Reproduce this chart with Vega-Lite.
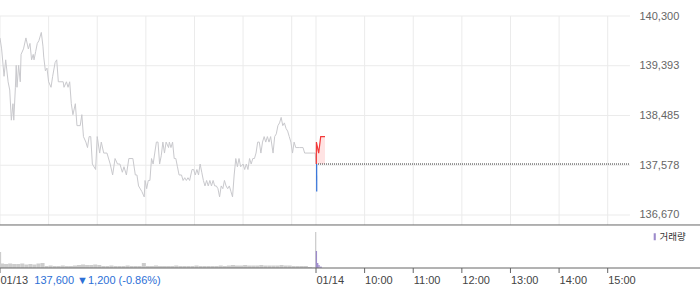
{
  "$schema": "https://vega.github.io/schema/vega-lite/v6.json",
  "width": 700,
  "height": 268,
  "padding": {"left": 0, "top": 0, "right": 0, "bottom": 21},
  "autosize": {"type": "none"},
  "background": "white",
  "config": {"view": {"stroke": null}, "font": "Liberation Sans"},
  "datasets": {
    "prev": [
      {"m":0,"p":139900},{"m":2,"p":139700},{"m":5,"p":139200},{"m":7,"p":139500},{"m":10,"p":139100},{"m":12,"p":138950},{"m":14,"p":138400},{"m":16,"p":138700},{"m":17,"p":138400},{"m":19,"p":139000},
      {"m":20,"p":139400},{"m":21,"p":139000},{"m":23,"p":139400},{"m":25,"p":139100},{"m":26,"p":139600},{"m":29,"p":139700},{"m":32,"p":139900},{"m":35,"p":139700},{"m":37,"p":139800},{"m":39,"p":139500},
      {"m":41,"p":139600},{"m":42,"p":139500},{"m":44,"p":139650},{"m":46,"p":139800},{"m":48,"p":139850},{"m":51,"p":140000},{"m":53,"p":139750},{"m":54,"p":139550},{"m":56,"p":139300},{"m":58,"p":139350},
      {"m":60,"p":139100},{"m":63,"p":139000},{"m":65,"p":139200},{"m":68,"p":139450},{"m":70,"p":139500},{"m":72,"p":139100},{"m":78,"p":139100},{"m":79,"p":139000},{"m":82,"p":139100},{"m":84,"p":139000},
      {"m":86,"p":139100},{"m":88,"p":138700},{"m":90,"p":138500},{"m":93,"p":138700},{"m":95,"p":138300},{"m":99,"p":138300},{"m":101,"p":138500},{"m":103,"p":138100},{"m":106,"p":138000},{"m":108,"p":137900},
      {"m":110,"p":138100},{"m":112,"p":138100},{"m":114,"p":137600},{"m":118,"p":137500},{"m":120,"p":138100},{"m":123,"p":137800},{"m":125,"p":138000},{"m":128,"p":137800},{"m":132,"p":137800},{"m":136,"p":137600},
      {"m":139,"p":137400},{"m":142,"p":137700},{"m":145,"p":137600},{"m":148,"p":137600},{"m":151,"p":137450},{"m":153,"p":137550},{"m":156,"p":137400},{"m":159,"p":137700},{"m":164,"p":137700},{"m":167,"p":137400},
      {"m":169,"p":137400},{"m":171,"p":137200},{"m":175,"p":137100},{"m":178,"p":137000},{"m":179,"p":137300},{"m":181,"p":137150},{"m":183,"p":137300},{"m":185,"p":137300},{"m":187,"p":137700},{"m":189,"p":137600},
      {"m":191,"p":137800},{"m":193,"p":138000},{"m":195,"p":138000},{"m":197,"p":137600},{"m":199,"p":137750},{"m":201,"p":138000},{"m":203,"p":137800},{"m":205,"p":138000},{"m":208,"p":137900},{"m":209,"p":138000},
      {"m":211,"p":137900},{"m":213,"p":138000},{"m":215,"p":137700},{"m":217,"p":137700},{"m":219,"p":137550},{"m":221,"p":137400},{"m":224,"p":137400},{"m":226,"p":137300},{"m":228,"p":137350},{"m":230,"p":137300},
      {"m":232,"p":137350},{"m":234,"p":137300},{"m":237,"p":137500},{"m":239,"p":137500},{"m":241,"p":137400},{"m":243,"p":137500},{"m":245,"p":137400},{"m":247,"p":137600},{"m":249,"p":137450},{"m":251,"p":137300},
      {"m":253,"p":137200},{"m":255,"p":137300},{"m":257,"p":137200},{"m":259,"p":137300},{"m":261,"p":137200},{"m":263,"p":137300},{"m":265,"p":137200},{"m":267,"p":137200},{"m":269,"p":137150},{"m":271,"p":137000},
      {"m":273,"p":137200},{"m":275,"p":137150},{"m":277,"p":137300},{"m":279,"p":137200},{"m":281,"p":137150},{"m":283,"p":137200},{"m":285,"p":137100},{"m":287,"p":137000},{"m":289,"p":137400},{"m":291,"p":137700},
      {"m":293,"p":137550},{"m":295,"p":137700},{"m":297,"p":137550},{"m":300,"p":137600},{"m":302,"p":137500},{"m":304,"p":137600},{"m":306,"p":137500},{"m":308,"p":137700},{"m":310,"p":137600},{"m":312,"p":137700},
      {"m":314,"p":137700},{"m":316,"p":137800},{"m":318,"p":138000},{"m":320,"p":138000},{"m":322,"p":137800},{"m":324,"p":138000},{"m":326,"p":138100},{"m":328,"p":138000},{"m":330,"p":138100},{"m":332,"p":138000},
      {"m":334,"p":138100},{"m":337,"p":137800},{"m":339,"p":138100},{"m":341,"p":138150},{"m":343,"p":138300},{"m":345,"p":138350},{"m":347,"p":138450},{"m":349,"p":138300},{"m":351,"p":138350},{"m":353,"p":138250},
      {"m":355,"p":138200},{"m":357,"p":138100},{"m":359,"p":138000},{"m":361,"p":137800},{"m":363,"p":138000},{"m":365,"p":137900},{"m":370,"p":137900},{"m":374,"p":137900},{"m":376,"p":137800},{"m":387,"p":137800},
      {"m":389,"p":137800},{"m":390,"p":137600}
    ],
    "up": [
      {"m":390.4,"p":137600},{"m":390.5,"p":138000},{"m":393.3,"p":137800},{"m":395.8,"p":138100},{"m":397.4,"p":138100},{"m":401.1,"p":138100}
    ],
    "down": [
      {"m":390.8,"p":137600},{"m":390.9,"p":137100}
    ],
    "hgrid": [{"g":136670},{"g":137578},{"g":138485},{"g":139393},{"g":140300}],
    "vgrid": [{"m":0},{"m":60},{"m":120},{"m":180},{"m":240},{"m":300},{"m":360},{"m":390},{"m":450},{"m":510},{"m":570},{"m":630},{"m":690},{"m":750}],
    "vol5": [
      {"m":2.5,"v":9,"day":"01/13"},{"m":7.5,"v":8,"day":"01/13"},{"m":12.5,"v":9,"day":"01/13"},{"m":17.5,"v":8,"day":"01/13"},{"m":22.5,"v":8,"day":"01/13"},{"m":27.5,"v":9,"day":"01/13"},{"m":32.5,"v":7,"day":"01/13"},{"m":37.5,"v":8,"day":"01/13"},{"m":42.5,"v":7,"day":"01/13"},{"m":47.5,"v":9,"day":"01/13"},
      {"m":52.5,"v":10,"day":"01/13"},{"m":57.5,"v":4,"day":"01/13"},{"m":62.5,"v":5,"day":"01/13"},{"m":67.5,"v":4,"day":"01/13"},{"m":72.5,"v":4,"day":"01/13"},{"m":77.5,"v":5,"day":"01/13"},{"m":82.5,"v":4,"day":"01/13"},{"m":87.5,"v":4,"day":"01/13"},{"m":92.5,"v":5,"day":"01/13"},{"m":97.5,"v":6,"day":"01/13"},
      {"m":102.5,"v":7,"day":"01/13"},{"m":107.5,"v":6,"day":"01/13"},{"m":112.5,"v":6,"day":"01/13"},{"m":117.5,"v":7,"day":"01/13"},{"m":122.5,"v":6,"day":"01/13"},{"m":127.5,"v":4,"day":"01/13"},{"m":132.5,"v":4,"day":"01/13"},{"m":137.5,"v":5,"day":"01/13"},{"m":142.5,"v":4,"day":"01/13"},{"m":147.5,"v":4,"day":"01/13"},
      {"m":152.5,"v":4,"day":"01/13"},{"m":157.5,"v":5,"day":"01/13"},{"m":162.5,"v":4,"day":"01/13"},{"m":167.5,"v":4,"day":"01/13"},{"m":172.5,"v":4,"day":"01/13"},{"m":177.5,"v":10,"day":"01/13"},{"m":182.5,"v":4,"day":"01/13"},{"m":187.5,"v":4,"day":"01/13"},{"m":192.5,"v":5,"day":"01/13"},{"m":197.5,"v":4,"day":"01/13"},
      {"m":202.5,"v":4,"day":"01/13"},{"m":207.5,"v":4,"day":"01/13"},{"m":212.5,"v":4,"day":"01/13"},{"m":217.5,"v":5,"day":"01/13"},{"m":222.5,"v":4,"day":"01/13"},{"m":227.5,"v":4,"day":"01/13"},{"m":232.5,"v":4,"day":"01/13"},{"m":237.5,"v":4,"day":"01/13"},{"m":242.5,"v":5,"day":"01/13"},{"m":247.5,"v":4,"day":"01/13"},
      {"m":252.5,"v":4,"day":"01/13"},{"m":257.5,"v":4,"day":"01/13"},{"m":262.5,"v":4,"day":"01/13"},{"m":267.5,"v":4,"day":"01/13"},{"m":272.5,"v":5,"day":"01/13"},{"m":277.5,"v":4,"day":"01/13"},{"m":282.5,"v":5,"day":"01/13"},{"m":287.5,"v":6,"day":"01/13"},{"m":292.5,"v":5,"day":"01/13"},{"m":297.5,"v":5,"day":"01/13"},
      {"m":302.5,"v":6,"day":"01/13"},{"m":307.5,"v":5,"day":"01/13"},{"m":312.5,"v":5,"day":"01/13"},{"m":317.5,"v":5,"day":"01/13"},{"m":322.5,"v":6,"day":"01/13"},{"m":327.5,"v":5,"day":"01/13"},{"m":332.5,"v":5,"day":"01/13"},{"m":337.5,"v":5,"day":"01/13"},{"m":342.5,"v":5,"day":"01/13"},{"m":347.5,"v":6,"day":"01/13"},
      {"m":352.5,"v":5,"day":"01/13"},{"m":357.5,"v":5,"day":"01/13"},{"m":362.5,"v":4,"day":"01/13"},{"m":367.5,"v":4,"day":"01/13"},{"m":372.5,"v":4,"day":"01/13"},{"m":377.5,"v":4,"day":"01/13"},{"m":382.5,"v":2,"day":"01/13"},{"m":387.5,"v":1,"day":"01/13"}
    ],
    "volSpike": [
      {"m":0.6,"v":32,"day":"01/13"},{"m":389.6,"v":72,"day":"01/13"},{"m":390.5,"v":34,"day":"01/14"},{"m":392.1,"v":10,"day":"01/14"},{"m":393.7,"v":6,"day":"01/14"},{"m":396.1,"v":3,"day":"01/14"}
    ],
    "ticksX": [{"m":0,"lab":"01/13"},{"m":390,"lab":"01/14"},{"m":450,"lab":"10:00"},{"m":510,"lab":"11:00"},{"m":570,"lab":"12:00"},{"m":630,"lab":"13:00"},{"m":690,"lab":"14:00"},{"m":750,"lab":"15:00"}],
    "info": [{"m":42.3,"txt":"137,600 ▼1,200 (-0.86%)"}]
  },
  "resolve": {"scale": {"y": "independent"}},
  "layer": [
    {
      "data": {"name": "hgrid"},
      "mark": {"type": "rule", "color": "#ebebeb", "strokeWidth": 1},
      "encoding": {
        "y": {"field": "g", "type": "quantitative",
          "scale": {"domain": [135703.2, 140591.9], "nice": false, "zero": false},
          "axis": {"orient": "right", "offset": -61, "values": [136670, 137578, 138485, 139393, 140300], "format": ",.0f",
            "domain": false, "ticks": false, "tickSize": 0, "grid": false, "labelPadding": 0,
            "labelFont": "Liberation Sans", "labelFontSize": 11, "labelColor": "#666666",
            "labelFlush": false, "labelOverlap": false, "title": null}},
        "x": {"datum": 0, "type": "quantitative", "scale": {"domain": [0, 863.92], "nice": false, "zero": false, "padding": 0}, "axis": null},
        "x2": {"datum": 777.5}
      }
    },
    {
      "data": {"name": "vgrid"},
      "mark": {"type": "rule", "color": "#ebebeb", "strokeWidth": 1},
      "encoding": {
        "x": {"field": "m", "type": "quantitative", "scale": {"domain": [0, 863.92], "nice": false, "zero": false, "padding": 0}, "axis": null},
        "y": {"datum": 140300, "type": "quantitative", "scale": {"domain": [135703.2, 140591.9], "nice": false, "zero": false}, "axis": null},
        "y2": {"datum": 136488}
      }
    },
    {
      "data": {"name": "up"},
      "mark": {"type": "area", "color": "#ffe3e3", "opacity": 1},
      "encoding": {
        "x": {"field": "m", "type": "quantitative", "scale": {"domain": [0, 863.92], "nice": false, "zero": false, "padding": 0}, "axis": null},
        "y": {"field": "p", "type": "quantitative", "scale": {"domain": [135703.2, 140591.9], "nice": false, "zero": false}, "axis": null},
        "y2": {"datum": 137600}
      }
    },
    {
      "data": {"values": [{"c": 137600}]},
      "mark": {"type": "rule", "color": "#333333", "strokeWidth": 1, "strokeDash": [1, 1]},
      "encoding": {
        "x": {"datum": 390, "type": "quantitative", "scale": {"domain": [0, 863.92], "nice": false, "zero": false, "padding": 0}, "axis": null},
        "x2": {"datum": 777.5},
        "y": {"field": "c", "type": "quantitative", "scale": {"domain": [135703.2, 140591.9], "nice": false, "zero": false}, "axis": null}
      }
    },
    {
      "data": {"name": "prev"},
      "mark": {"type": "line", "color": "#c9c9cd", "strokeWidth": 1},
      "encoding": {
        "x": {"field": "m", "type": "quantitative", "scale": {"domain": [0, 863.92], "nice": false, "zero": false, "padding": 0}, "axis": null},
        "y": {"field": "p", "type": "quantitative", "scale": {"domain": [135703.2, 140591.9], "nice": false, "zero": false}, "axis": null}
      }
    },
    {
      "data": {"name": "up"},
      "mark": {"type": "line", "color": "#f23a3a", "strokeWidth": 1.2},
      "encoding": {
        "x": {"field": "m", "type": "quantitative", "scale": {"domain": [0, 863.92], "nice": false, "zero": false, "padding": 0}, "axis": null},
        "y": {"field": "p", "type": "quantitative", "scale": {"domain": [135703.2, 140591.9], "nice": false, "zero": false}, "axis": null}
      }
    },
    {
      "data": {"name": "down"},
      "mark": {"type": "line", "color": "#2f6fd8", "strokeWidth": 1.2},
      "encoding": {
        "x": {"field": "m", "type": "quantitative", "scale": {"domain": [0, 863.92], "nice": false, "zero": false, "padding": 0}, "axis": null},
        "y": {"field": "p", "type": "quantitative", "scale": {"domain": [135703.2, 140591.9], "nice": false, "zero": false}, "axis": null}
      }
    },
    {
      "data": {"values": [{"s": 136488}]},
      "mark": {"type": "rule", "color": "#666666", "strokeWidth": 1},
      "encoding": {
        "y": {"field": "s", "type": "quantitative", "scale": {"domain": [135703.2, 140591.9], "nice": false, "zero": false}, "axis": null}
      }
    },
    {
      "data": {"name": "vol5"},
      "mark": {"type": "bar", "width": 4.05},
      "encoding": {
        "x": {"field": "m", "type": "quantitative", "scale": {"domain": [0, 863.92], "nice": false, "zero": false, "padding": 0}, "axis": null},
        "y": {"field": "v", "type": "quantitative", "scale": {"domain": [0, 536], "nice": false}, "axis": null},
        "color": {"field": "day", "type": "nominal",
          "scale": {"domain": ["01/13", "01/14"], "range": ["#cdcdcd", "#9d8bcb"]},
          "legend": {"values": ["01/14"], "labelExpr": "'거래량'", "title": null, "orient": "none", "legendX": 650, "legendY": 232,
            "padding": 0, "symbolType": "M-0.3,-1L0.3,-1L0.3,1L-0.3,1Z", "symbolSize": 49, "symbolStrokeWidth": 0,
            "labelFont": "Noto Sans CJK KR", "labelFontSize": 9.5, "labelColor": "#333333", "labelOffset": 0}}
      }
    },
    {
      "data": {"name": "volSpike"},
      "mark": {"type": "bar", "width": 1.3},
      "encoding": {
        "x": {"field": "m", "type": "quantitative", "scale": {"domain": [0, 863.92], "nice": false, "zero": false, "padding": 0}, "axis": null},
        "y": {"field": "v", "type": "quantitative", "scale": {"domain": [0, 536], "nice": false}, "axis": null},
        "color": {"field": "day", "type": "nominal", "scale": {"domain": ["01/13", "01/14"], "range": ["#cdcdcd", "#9d8bcb"]}, "legend": null}
      }
    },
    {
      "data": {"values": [{"z": 0}]},
      "mark": {"type": "rule", "color": "#666666", "strokeWidth": 1},
      "encoding": {
        "y": {"field": "z", "type": "quantitative", "scale": {"domain": [0, 536], "nice": false}, "axis": null}
      }
    },
    {
      "data": {"name": "ticksX"},
      "mark": {"type": "rule", "color": "#666666", "strokeWidth": 1},
      "encoding": {
        "x": {"field": "m", "type": "quantitative", "scale": {"domain": [0, 863.92], "nice": false, "zero": false, "padding": 0}, "axis": null},
        "y": {"datum": 0, "type": "quantitative", "scale": {"domain": [0, 536], "nice": false}, "axis": null},
        "y2": {"datum": -10}
      }
    },
    {
      "data": {"name": "ticksX"},
      "mark": {"type": "text", "align": "left", "baseline": "middle", "dx": 0.5, "font": "Liberation Sans", "fontSize": 11, "color": "#444444"},
      "encoding": {
        "x": {"field": "m", "type": "quantitative", "scale": {"domain": [0, 863.92], "nice": false, "zero": false, "padding": 0}, "axis": null},
        "y": {"datum": -25, "type": "quantitative", "scale": {"domain": [0, 536], "nice": false}, "axis": null},
        "text": {"field": "lab"}
      }
    },
    {
      "data": {"name": "info"},
      "mark": {"type": "text", "align": "left", "baseline": "middle", "font": "Liberation Sans", "fontSize": 11, "color": "#2d6fd6"},
      "encoding": {
        "x": {"field": "m", "type": "quantitative", "scale": {"domain": [0, 863.92], "nice": false, "zero": false, "padding": 0}, "axis": null},
        "y": {"datum": -25, "type": "quantitative", "scale": {"domain": [0, 536], "nice": false}, "axis": null},
        "text": {"field": "txt"}
      }
    }
  ]
}
